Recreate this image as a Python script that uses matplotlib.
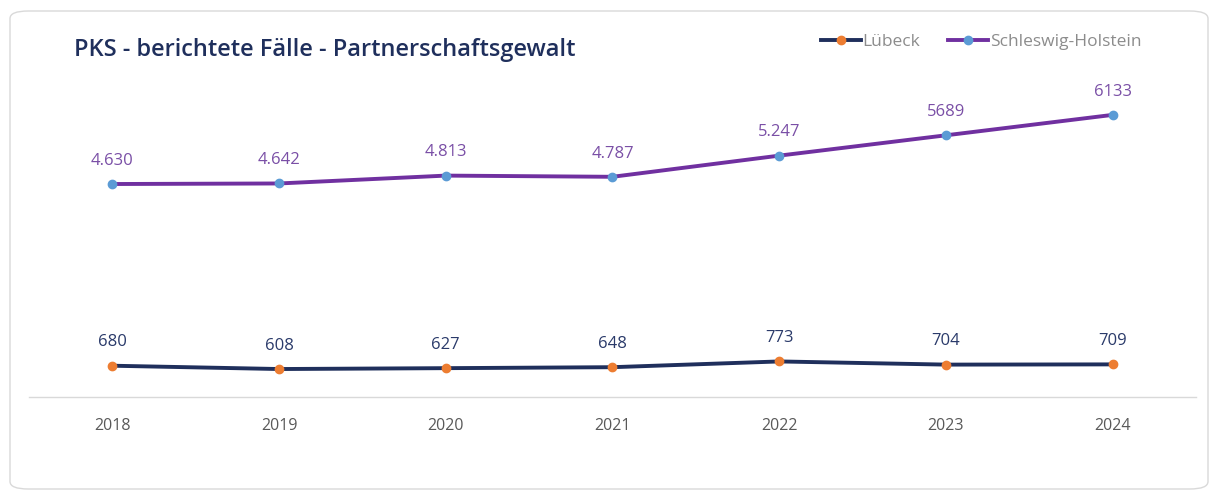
import matplotlib.pyplot as plt
from matplotlib.patches import FancyBboxPatch

# Data
years = ['2018', '2019', '2020', '2021', '2022', '2023', '2024']
luebeck = [680, 608, 627, 648, 773, 704, 709]
sh = [4630, 4642, 4813, 4787, 5247, 5689, 6133]
luebeck_labels = ['680', '608', '627', '648', '773', '704', '709']
sh_labels = ['4.630', '4.642', '4.813', '4.787', '5.247', '5689', '6133']

navy = '#1f2f5c'
orange = '#ed7d31'
purple = '#7030a0'
lightblue = '#5b9bd5'

plt.rcParams['font.family'] = ['Open Sans', 'DejaVu Sans']

fig = plt.figure(figsize=(12.19, 4.99), dpi=100)

# Card background with rounded border
card = FancyBboxPatch((10 / 1219, 10 / 499), 1198 / 1219, 478 / 499,
                      boxstyle='round,pad=0,rounding_size=0.015',
                      transform=fig.transFigure, facecolor='white',
                      edgecolor='#d9d9d9', linewidth=1.0, zorder=-5)
fig.patches.append(card)

ax = fig.add_axes([29 / 1219, 102 / 499, 1167 / 1219, 322 / 499])
ax.set_zorder(2)
ax.set_facecolor('none')
x = list(range(len(years)))

ax.plot(x, luebeck, color=navy, linewidth=2.8, marker='o', markersize=6,
        markerfacecolor=orange, markeredgecolor=orange, label='Lübeck')
ax.plot(x, sh, color=purple, linewidth=2.8, marker='o', markersize=6,
        markerfacecolor=lightblue, markeredgecolor=lightblue, label='Schleswig-Holstein')

for xi, v, lab in zip(x, luebeck, luebeck_labels):
    ax.annotate(lab, (xi, v), xytext=(0, 11), textcoords='offset points',
                ha='center', va='bottom', fontsize=12, color='#2a3a6a')
for xi, v, lab in zip(x, sh, sh_labels):
    ax.annotate(lab, (xi, v), xytext=(0, 11), textcoords='offset points',
                ha='center', va='bottom', fontsize=12, color='#7a4fa6')

ax.set_xlim(-0.5, len(years) - 0.5)
ax.set_ylim(0, 7000)
ax.set_xticks(x)
ax.set_xticklabels(years, fontsize=11.5, color='#595959')
ax.tick_params(axis='x', length=0, pad=15)
ax.set_yticks([])
for side in ['top', 'right', 'left']:
    ax.spines[side].set_visible(False)
ax.spines['bottom'].set_color('#d9d9d9')
ax.spines['bottom'].set_linewidth(1.0)

fig.text(74 / 1219, 1 - 50 / 499, 'PKS - berichtete Fälle - Partnerschaftsgewalt',
         fontsize=17, color=navy, va='center', ha='left', fontweight='semibold')

leg = fig.legend(loc='center right', bbox_to_anchor=(1150 / 1219, 1 - 42 / 499),
                 ncol=2, frameon=False, prop={'size': 12.5},
                 handlelength=2.3, handletextpad=0.1, columnspacing=1.6,
                 borderpad=0)
for t in leg.get_texts():
    t.set_color('#8c8c8c')

fig.savefig('out.png', dpi=100)
